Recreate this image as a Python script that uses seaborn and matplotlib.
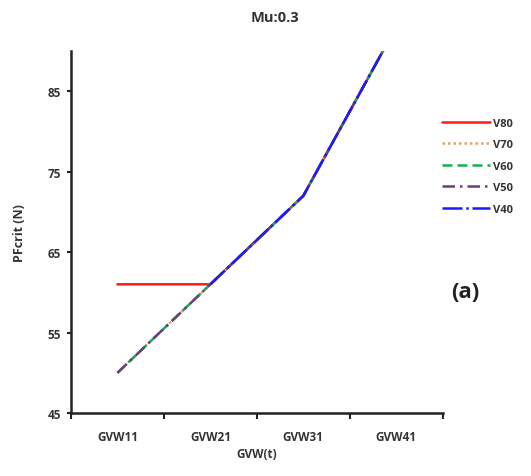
import matplotlib
matplotlib.use("Agg")
import matplotlib.pyplot as plt
import seaborn as sns
import pandas as pd
import numpy as np
from matplotlib.ticker import FixedLocator

# Critical pull force per vehicle weight class, one series per speed
categories = ["GVW11", "GVW21", "GVW31", "GVW41"]
v80 = [61, 61, 72, 93]
v70 = [50, 61, 72, 93]
v60 = [50, 61, 72, 93]
v50 = [50, 61, 72, 93]
v40 = [np.nan, 61, 72, 93]

series_names = ["V80", "V70", "V60", "V50", "V40"]
series_values = [v80, v70, v60, v50, v40]
colors = ["#ff1a1a", "#e8a060", "#10b050", "#6a3f7a", "#1a1aff"]
dash_styles = [(None), (1, 1.2), (4, 2), (5, 2, 1, 2), (8, 1.5, 1, 1.5)]

rows = []
for name, vals in zip(series_names, series_values):
    for c, v in zip(categories, vals):
        rows.append({"GVW": c, "PF": v, "series": name})
df = pd.DataFrame(rows)

sns.set_theme(style="white")
plt.rcParams["font.family"] = ["Open Sans", "DejaVu Sans"]

fig = plt.figure(figsize=(5.31, 4.77), dpi=100)
ax = fig.add_axes([0.1337, 0.132, 0.700, 0.759])

for name, col, ds in zip(series_names, colors, dash_styles):
    sub = df[df["series"] == name]
    sns.lineplot(data=sub, x="GVW", y="PF", ax=ax, color=col, lw=1.8,
                 label=name, sort=False)
    line = ax.get_lines()[-1]
    if ds is not None:
        line.set_dashes(ds)

ax.set_xlim(-0.5, 3.5)
ax.set_ylim(45, 90)
ax.set_yticks([45, 55, 65, 75, 85])
ax.set_xticks(range(len(categories)))
ax.set_xticklabels(categories)
ax.xaxis.set_minor_locator(FixedLocator([-0.5, 0.5, 1.5, 2.5, 3.5]))
ax.tick_params(axis="x", which="major", length=0, pad=12)
ax.tick_params(axis="x", which="minor", length=4, width=1.5, direction="out",
               color="#222222", bottom=True)
ax.tick_params(axis="y", which="major", length=3, width=1.5, direction="out",
               color="#222222", left=True, pad=4)
for lbl in ax.get_xticklabels() + ax.get_yticklabels():
    lbl.set_fontweight("bold")
    lbl.set_color("#333333")
    lbl.set_fontsize(8.5)

for side in ["top", "right"]:
    ax.spines[side].set_visible(False)
for side in ["left", "bottom"]:
    ax.spines[side].set_color("#222222")
    ax.spines[side].set_linewidth(1.8)

ax.set_xlabel("GVW(t)", fontsize=8.5, fontweight="bold", color="#333333", labelpad=3)
ax.set_ylabel("PFcrit (N)", fontsize=9, fontweight="bold", color="#333333", labelpad=16)
fig.text(0.518, 0.962, "Mu:0.3", ha="center", va="center", fontsize=10.5,
         fontweight="bold", color="#333333")

leg = ax.legend(loc="upper left", bbox_to_anchor=(0.985, 0.828), frameon=False,
                fontsize=8, handlelength=4.4, labelspacing=0.95,
                handletextpad=0.25, borderaxespad=0)
for t in leg.get_texts():
    t.set_fontweight("bold")
    t.set_color("#333333")

fig.text(0.876, 0.386, "(a)", ha="center", va="center", fontsize=16,
         fontweight="bold", color="#222222")

fig.savefig("out.png", dpi=100)
